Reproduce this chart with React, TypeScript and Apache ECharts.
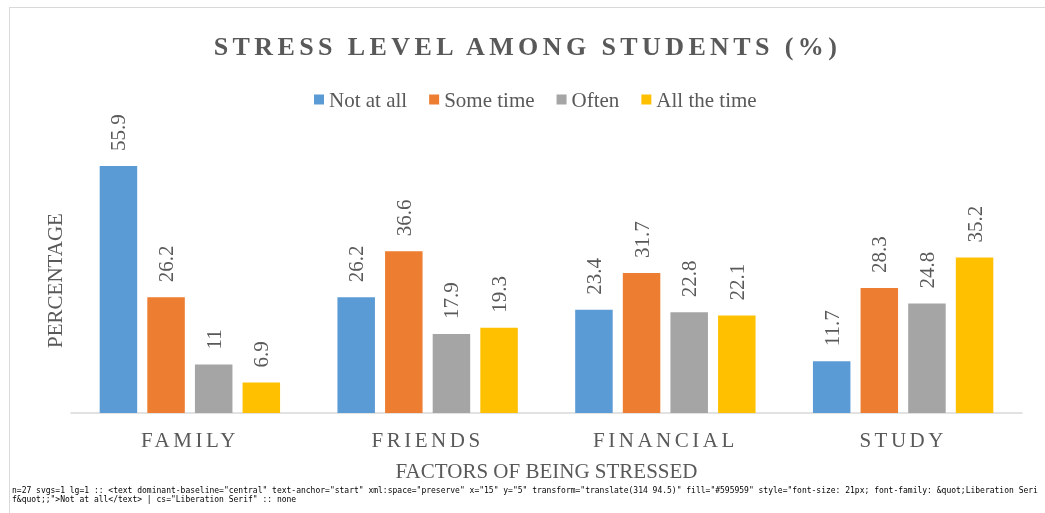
import React, { useEffect, useRef, useState } from "react";
import * as echarts from "echarts";

const TITLE = "STRESS LEVEL AMONG STUDENTS (%)";
const categories = ["FAMILY", "FRIENDS", "FINANCIAL", "STUDY"];
const seriesNames = ["Not at all", "Some time", "Often", "All the time"];
const notAtAll = [55.9, 26.2, 23.4, 11.7];
const someTime = [26.2, 36.6, 31.7, 28.3];
const often = [11, 17.9, 22.8, 24.8];
const allTheTime = [6.9, 19.3, 22.1, 35.2];
const colors = ["#5B9BD5", "#ED7D31", "#A5A5A5", "#FFC000"];
const yAxisName = "PERCENTAGE";
const xAxisName = "FACTORS OF BEING STRESSED";

const FONT = "Liberation Serif";
const TEXT = "#595959";

export default function App() {
  const ref = useRef<HTMLDivElement>(null);
  const [diag, setDiag] = useState("");
  useEffect(() => {
    const el = ref.current!;
    const chart = echarts.init(el, null, { renderer: "svg" });
    const values = [notAtAll, someTime, often, allTheTime];
    chart.setOption({
      animation: false,
      textStyle: { fontFamily: FONT },
      title: {
        text: TITLE,
        left: "center",
        top: 33,
        padding: 0,
        textStyle: { fontFamily: FONT, fontSize: 26, fontWeight: "bold", color: TEXT },
      },
      legend: {
        left: 309,
        top: 84,
        itemWidth: 10,
        itemHeight: 10,
        itemGap: 22,
        icon: "rect",
        data: seriesNames,
        textStyle: { fontFamily: FONT, fontSize: 21, color: TEXT },
      },
      grid: { left: 71, right: 23, top: 148, bottom: 100 },
      xAxis: {
        type: "category",
        data: categories,
        name: xAxisName,
        nameLocation: "middle",
        nameGap: 47,
        nameTextStyle: { fontFamily: FONT, fontSize: 21, color: TEXT },
        axisLine: { lineStyle: { color: "#D9D9D9", width: 1.5 } },
        axisTick: { show: false },
        axisLabel: { fontFamily: FONT, fontSize: 21, color: TEXT, margin: 16 },
      },
      yAxis: {
        type: "value",
        min: 0,
        max: 60,
        name: yAxisName,
        nameLocation: "middle",
        nameGap: 6,
        nameTextStyle: { fontFamily: FONT, fontSize: 21, color: TEXT },
        axisLine: { show: false },
        axisTick: { show: false },
        axisLabel: { show: false },
        splitLine: { show: false },
      },
      series: seriesNames.map((name, i) => ({
        name,
        type: "bar",
        data: values[i],
        barWidth: 37.5,
        barGap: "27%",
        itemStyle: { color: colors[i] },
        label: {
          show: true,
          position: "top",
          rotate: 90,
          align: "left",
          verticalAlign: "middle",
          distance: 15,
          fontFamily: FONT,
          fontSize: 21,
          color: TEXT,
        },
      })),
    });

    const applySpacing = () => {
      el.querySelectorAll("text").forEach((t) => {
        const st = (t as SVGElement).style;
        const s = t.textContent || "";
        if (s === TITLE) {
          if (st.letterSpacing !== "4.4px") st.letterSpacing = "4.4px";
          if (t.getAttribute("dx") !== "5") t.setAttribute("dx", "5");
        } else if (categories.includes(s) && st.letterSpacing !== "3.5px") {
          st.letterSpacing = "3.5px";
        }
      });
    };
    applySpacing();
    chart.on("finished", applySpacing);
    const raf = requestAnimationFrame(applySpacing);
    const to = setTimeout(() => {
      applySpacing();
      const all = Array.from(document.querySelectorAll("text"));
      const lg = all.filter((t) => (t.textContent || "").includes("Not at all"));
      const f = (t?: Element) =>
        t ? t.outerHTML.slice(0, 260) + " | cs=" + getComputedStyle(t).fontFamily : "none";
      setDiag(
        "n=" + all.length + " svgs=" + document.querySelectorAll("svg").length +
          " lg=" + lg.length + " :: " + f(lg[0]) + " :: " + f(lg[1])
      );
    }, 200);
    return () => {
      cancelAnimationFrame(raf);
      clearTimeout(to);
      chart.dispose();
    };
  }, []);
  return (
    <>
      <div
        id="stress-chart"
        ref={ref}
        style={{ position: "fixed", left: 0, top: 0, width: 1045, height: 513 }}
      />
      <div
        style={{
          position: "fixed",
          left: 9,
          top: 7,
          width: 1036,
          height: 506,
          borderLeft: "1px solid #D9D9D9",
          borderTop: "1px solid #D9D9D9",
          pointerEvents: "none",
        }}
      />
      <pre
        style={{
          position: "fixed",
          left: 12,
          top: 486,
          width: 1030,
          margin: 0,
          fontSize: 8,
          lineHeight: "9px",
          whiteSpace: "pre-wrap",
          wordBreak: "break-all",
          fontFamily: "DejaVu Sans Mono",
          color: "#000",
        }}
      >
        {diag}
      </pre>
    </>
  );
}
